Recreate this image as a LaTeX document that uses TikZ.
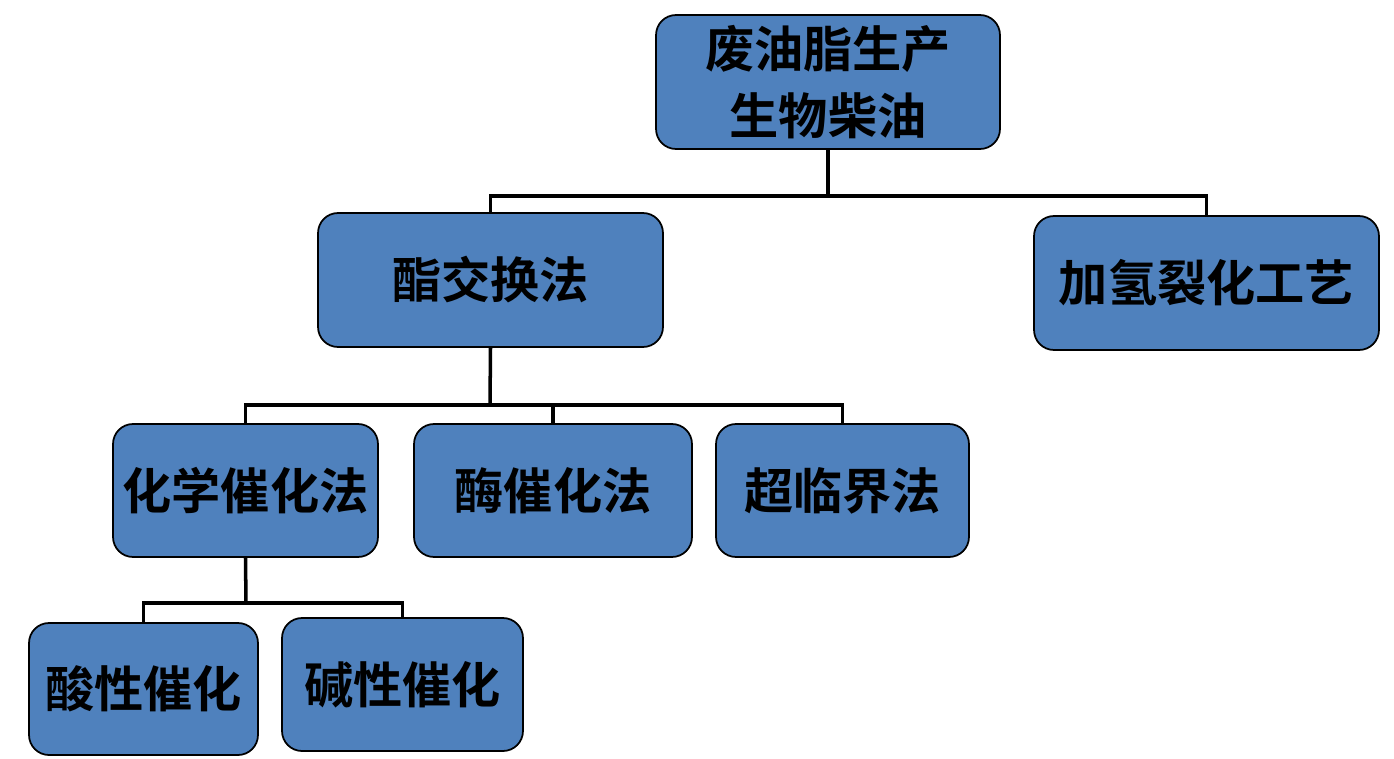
\documentclass[tikz,border=0pt]{standalone}
\usepackage{fontspec}
\newfontfamily\cjk{Noto Sans CJK SC}[BoldFont={Noto Sans CJK SC Bold}]
\begin{document}
\begin{tikzpicture}[x=0.02cm,y=-0.02cm,
  box/.style={draw=black,line width=1pt,fill=boxblue,rounded corners=0.4cm,inner sep=0pt,align=center,
    font=\cjk\bfseries\fontsize{28}{38}\selectfont},
  link/.style={draw=black,line width=2pt}]
\definecolor{boxblue}{HTML}{4F81BD}
\useasboundingbox (0,0) rectangle (1394,758);
\node[box,minimum width=6.88cm,minimum height=2.68cm] (top) at (828,82) {废油脂生产\\生物柴油};
\node[box,minimum width=6.9cm,minimum height=2.68cm] (zj) at (490.5,280) {酯交换法};
\node[box,minimum width=6.9cm,minimum height=2.68cm] (jq) at (1206.5,283) {加氢裂化工艺};
\node[box,minimum width=5.3cm,minimum height=2.66cm] (hx) at (245.5,490.5) {化学催化法};
\node[box,minimum width=5.56cm,minimum height=2.66cm] (m) at (553,490.5) {酶催化法};
\node[box,minimum width=5.06cm,minimum height=2.66cm] (cl) at (842.5,490.5) {超临界法};
\node[box,minimum width=4.58cm,minimum height=2.64cm] (sx) at (143.5,689) {酸性催化};
\node[box,minimum width=4.82cm,minimum height=2.66cm] (jx) at (402.5,684.5) {碱性催化};
\coordinate (j1) at (828,196);
\coordinate (j2) at (490,405);
\coordinate (j3) at (246,603);
\draw[link] (top.south) -- (j1);
\draw[link] (j1) -| (zj.north);
\draw[link] (j1) -| (jq.north);
\draw[link] (zj.south) -- (j2);
\draw[link] (j2) -| (hx.north);
\draw[link] (j2) -| (m.north);
\draw[link] (j2) -| (cl.north);
\draw[link] (hx.south) -- (j3);
\draw[link] (j3) -| (sx.north);
\draw[link] (j3) -| (jx.north);
\end{tikzpicture}
\end{document}
